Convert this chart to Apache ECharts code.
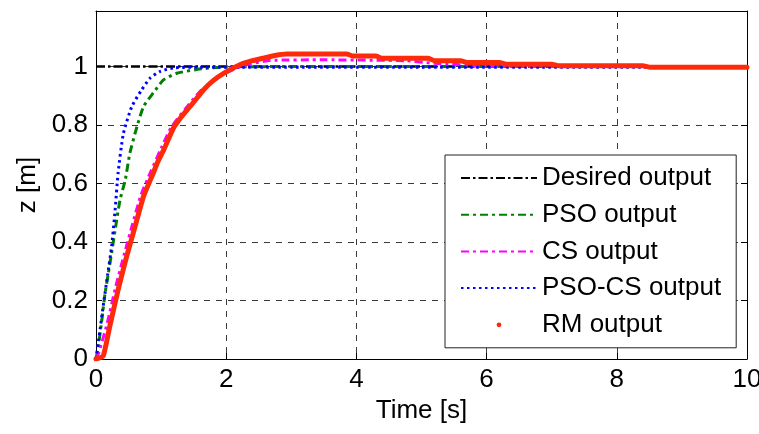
<!DOCTYPE html>
<html>
<head>
<meta charset="utf-8">
<script src="https://cdn.jsdelivr.net/npm/echarts@6/dist/echarts.min.js"></script>
<style>
html,body{margin:0;padding:0;background:#fff;}
#chart{width:759px;height:434px;}
</style>
</head>
<body>
<div id="chart"></div>
<script>
// ---- data ----
const seriesNames = ['Desired output', 'PSO output', 'CS output', 'PSO-CS output', 'RM output'];
const xTicks = [0, 2, 4, 6, 8, 10];
const yTicks = [0, 0.2, 0.4, 0.6, 0.8, 1];

const tDesired = [0, 10];
const zDesired = [1, 1];

const tPSO = [0, 0.035, 0.09, 0.14, 0.19, 0.24, 0.3, 0.37, 0.45, 0.52, 0.63, 0.73, 0.88, 1.04, 1.24, 1.55, 1.9, 3, 5, 7, 10];
const zPSO = [0, 0.043, 0.134, 0.226, 0.294, 0.363, 0.45, 0.545, 0.613, 0.704, 0.795, 0.863, 0.91, 0.955, 0.977, 0.99, 0.998, 1.0, 1.0, 1.0, 1.0];

const tCS = [0, 0.04, 0.17, 0.3, 0.43, 0.56, 0.69, 0.84, 1.0, 1.15, 1.36, 1.6, 1.92, 2.2, 2.37, 2.67, 3.5, 4.76, 5.2, 6.0, 7, 10];
const zCS = [0, 0.02, 0.12, 0.245, 0.355, 0.46, 0.56, 0.64, 0.72, 0.79, 0.852, 0.915, 0.97, 0.998, 1.009, 1.021, 1.023, 1.02, 1.011, 1.002, 1.0, 1.0];

const tPSOCS = [0, 0.05, 0.11, 0.18, 0.24, 0.29, 0.34, 0.42, 0.55, 0.70, 0.83, 0.98, 1.19, 1.5, 3, 10];
const zPSOCS = [0, 0.08, 0.18, 0.29, 0.385, 0.5, 0.636, 0.77, 0.863, 0.92, 0.96, 0.983, 0.995, 0.998, 0.998, 0.998];

const tRM = [0, 0.11, 0.21, 0.34, 0.47, 0.6, 0.73, 0.88, 0.95, 1.04, 1.19, 1.3, 1.40, 1.5, 1.65, 1.8, 1.96, 2.21, 2.4, 2.57, 2.75, 2.93, 3.85, 3.95, 4.3, 4.4, 5.1, 5.2, 5.6, 5.7, 6.2, 6.3, 7.0, 7.1, 8.4, 8.5, 10];
const zRM = [0, 0.01, 0.11, 0.237, 0.35, 0.453, 0.556, 0.636, 0.675, 0.715, 0.79, 0.825, 0.852, 0.878, 0.92, 0.952, 0.977, 1.006, 1.02, 1.029, 1.038, 1.043, 1.043, 1.036, 1.036, 1.028, 1.028, 1.02, 1.02, 1.014, 1.014, 1.008, 1.008, 1.003, 1.003, 0.998, 0.998];

// ---- chart ----
function pairs(t, z) { return t.map((v, i) => [v, z[i]]); }
const FONT = 'Liberation Sans, Arial, sans-serif';
const chart = echarts.init(document.getElementById('chart'), null, {renderer: 'canvas'});

const gridLine = {show: true, lineStyle: {color: '#3a3a3a', width: 1, type: [6, 6]}};
const axisLine = {show: true, onZero: false, lineStyle: {color: '#000', width: 1}};
const tick = {show: true, inside: true, length: 6, lineStyle: {color: '#000'}};

const option = {
  animation: false,
  backgroundColor: '#fff',
  grid: {left: 96, right: 12, top: 11, bottom: 75, containLabel: false, outerBoundsMode: 'none'},
  xAxis: [{
    type: 'value', min: xTicks[0], max: xTicks[xTicks.length - 1], interval: xTicks[1] - xTicks[0],
    position: 'bottom',
    name: 'Time [s]', nameLocation: 'middle', nameGap: 37,
    nameTextStyle: {fontFamily: FONT, fontSize: 26, color: '#000'},
    axisLine: axisLine, axisTick: tick, splitLine: gridLine,
    axisLabel: {fontFamily: FONT, fontSize: 26, color: '#000', margin: 8}
  }, {
    type: 'value', min: xTicks[0], max: xTicks[xTicks.length - 1], interval: xTicks[1] - xTicks[0],
    position: 'top', axisLine: axisLine, axisTick: tick, splitLine: {show: false}, axisLabel: {show: false}
  }],
  yAxis: [{
    type: 'value', min: yTicks[0], max: 1.19, interval: yTicks[1] - yTicks[0],
    position: 'left',
    name: 'z [m]', nameLocation: 'middle', nameGap: 52, nameRotate: 90,
    nameTextStyle: {fontFamily: FONT, fontSize: 26, color: '#000'},
    axisLine: axisLine, axisTick: tick, splitLine: gridLine,
    axisLabel: {fontFamily: FONT, fontSize: 26, color: '#000', margin: 8, showMaxLabel: false,
      formatter: v => (v > 1.001 ? '' : String(Math.round(v * 10) / 10))}
  }, {
    type: 'value', min: yTicks[0], max: 1.19, interval: yTicks[1] - yTicks[0],
    position: 'right', axisLine: axisLine, axisTick: tick, splitLine: {show: false}, axisLabel: {show: false}
  }],
  legend: {
    orient: 'vertical', left: 445, top: 155,
    padding: [8, 15, 8, 15],
    backgroundColor: '#fff', borderColor: '#222', borderWidth: 1, borderRadius: 0,
    itemWidth: 76, itemHeight: 6, itemGap: 6.7,
    textStyle: {fontFamily: FONT, fontSize: 26, color: '#000', lineHeight: 30},
    data: [
      {name: seriesNames[0], itemStyle: {opacity: 0}},
      {name: seriesNames[1], itemStyle: {opacity: 0}},
      {name: seriesNames[2], itemStyle: {opacity: 0}},
      {name: seriesNames[3], itemStyle: {opacity: 0}},
      {name: seriesNames[4], lineStyle: {opacity: 0}, itemStyle: {color: '#ff2a0a', opacity: 1}}
    ]
  },
  series: [
    {name: seriesNames[0], type: 'line', data: pairs(tDesired, zDesired), symbol: 'none', z: 2,
      color: '#000', lineStyle: {color: '#000', width: 2.5, type: [9, 3, 2.5, 3]}},
    {name: seriesNames[1], type: 'line', data: pairs(tPSO, zPSO), symbol: 'none', z: 3, smooth: 0.2,
      color: '#008000', lineStyle: {color: '#008000', width: 3, type: [8, 4, 3, 4]}},
    {name: seriesNames[2], type: 'line', data: pairs(tCS, zCS), symbol: 'none', z: 4, smooth: 0.2,
      color: '#ff00ff', lineStyle: {color: '#ff00ff', width: 3, type: [8, 4, 3, 4]}},
    {name: seriesNames[3], type: 'line', data: pairs(tPSOCS, zPSOCS), symbol: 'none', z: 5, smooth: 0.2,
      color: '#0000ff', lineStyle: {color: '#0000ff', width: 3, type: [2.5, 3.5]}},
    {name: seriesNames[4], type: 'line', data: pairs(tRM, zRM), symbol: 'none', z: 6, smooth: 0.15,
      color: '#ff2a0a', lineStyle: {color: '#ff2a0a', width: 5, cap: 'round', join: 'round'}}
  ]
};
chart.setOption(option);
</script>
</body>
</html>
